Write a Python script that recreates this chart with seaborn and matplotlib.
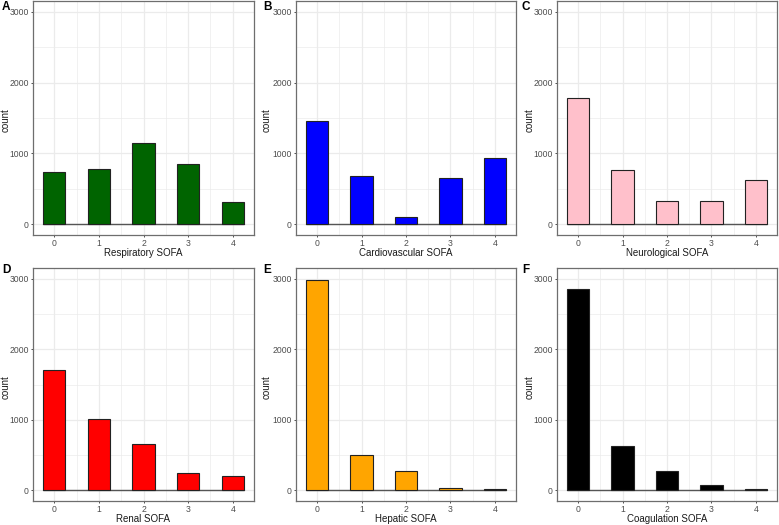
import matplotlib
matplotlib.use("Agg")
import matplotlib.pyplot as plt
import seaborn as sns
import numpy as np
import pandas as pd

sns.set_theme(style="white")
plt.rcParams['font.family'] = ['Liberation Sans', 'DejaVu Sans']

scores = [0, 1, 2, 3, 4]
respiratory = [742, 775, 1150, 845, 319]
cardiovascular = [1451, 681, 103, 648, 939]
neurological = [1789, 770, 324, 329, 620]
renal = [1704, 1009, 657, 249, 197]
hepatic = [2977, 507, 272, 38, 15]
coagulation = [2858, 625, 272, 70, 15]

panels = [
    ("A", "Respiratory SOFA", respiratory, "#006400"),
    ("B", "Cardiovascular SOFA", cardiovascular, "#0000FF"),
    ("C", "Neurological SOFA", neurological, "#FFC0CB"),
    ("D", "Renal SOFA", renal, "#FF0000"),
    ("E", "Hepatic SOFA", hepatic, "#FFA500"),
    ("F", "Coagulation SOFA", coagulation, "#000000"),
]

W, H = 779, 525
fig = plt.figure(figsize=(W / 100, H / 100), dpi=100)

lefts = [33, 296, 557]
widths = [221, 220, 220]
tops = [1, 268]
heights = [234, 233]
letter_x = [2, 263, 522]
letter_y = [7, 270]
ylab_x = [6, 267, 530]
xlab_y = [253, 519]

bar_w = 0.5
for i, (letter, label, vals, col) in enumerate(panels):
    r, c = divmod(i, 3)
    ax = fig.add_axes([lefts[c] / W, 1 - (tops[r] + heights[r]) / H,
                       widths[c] / W, heights[r] / H])
    df = pd.DataFrame({"score": scores, "count": vals})
    ax.set_xlim(-0.475, 4.475)
    ax.set_ylim(-150, 3150)
    for x in np.arange(-0.5, 5.0, 0.5):
        ax.axvline(x, color="#EBEBEB", lw=0.5 if x % 1 else 0.9, zorder=0)
    for y in np.arange(0, 3001, 500):
        ax.axhline(y, color="#EBEBEB", lw=0.5 if y % 1000 else 0.9, zorder=0)
    ax.plot([scores[0] - bar_w / 2, scores[-1] + bar_w / 2], [0, 0],
            color="#555555", lw=1.0, zorder=1)
    sns.barplot(data=df, x="score", y="count", color=col, width=bar_w,
                edgecolor="#222222", linewidth=0.8, saturation=1,
                native_scale=True, ax=ax, zorder=2)
    ax.set_xlim(-0.475, 4.475)
    ax.set_ylim(-150, 3150)
    ax.set_xticks(scores)
    ax.set_xticklabels([str(s) for s in scores])
    ax.set_yticks([0, 1000, 2000, 3000])
    ax.set_yticklabels(["0", "1000", "2000", "3000"])
    ax.tick_params(axis="both", labelsize=6.2, labelcolor="#4D4D4D",
                   length=1.6, width=0.6, color="#333333", pad=1.5,
                   bottom=True, left=True)
    for s in ax.spines.values():
        s.set_color("#6E6E6E")
        s.set_linewidth(0.9)
    ax.set_xlabel(label, fontsize=7, color="#1A1A1A")
    ax.set_ylabel("count", fontsize=7, color="#1A1A1A")
    ax.xaxis.label.set_va("center")
    ax.yaxis.label.set_va("center")
    ax.xaxis.set_label_coords(0.5, -(xlab_y[r] - (tops[r] + heights[r])) / heights[r])
    ax.yaxis.set_label_coords((ylab_x[c] - lefts[c]) / widths[c], 0.49)
    ax.grid(False)
    fig.text(letter_x[c] / W, 1 - letter_y[r] / H, letter, fontsize=8.5,
             fontweight="bold", ha="left", va="center", color="black")

fig.savefig("out.png", dpi=100)
